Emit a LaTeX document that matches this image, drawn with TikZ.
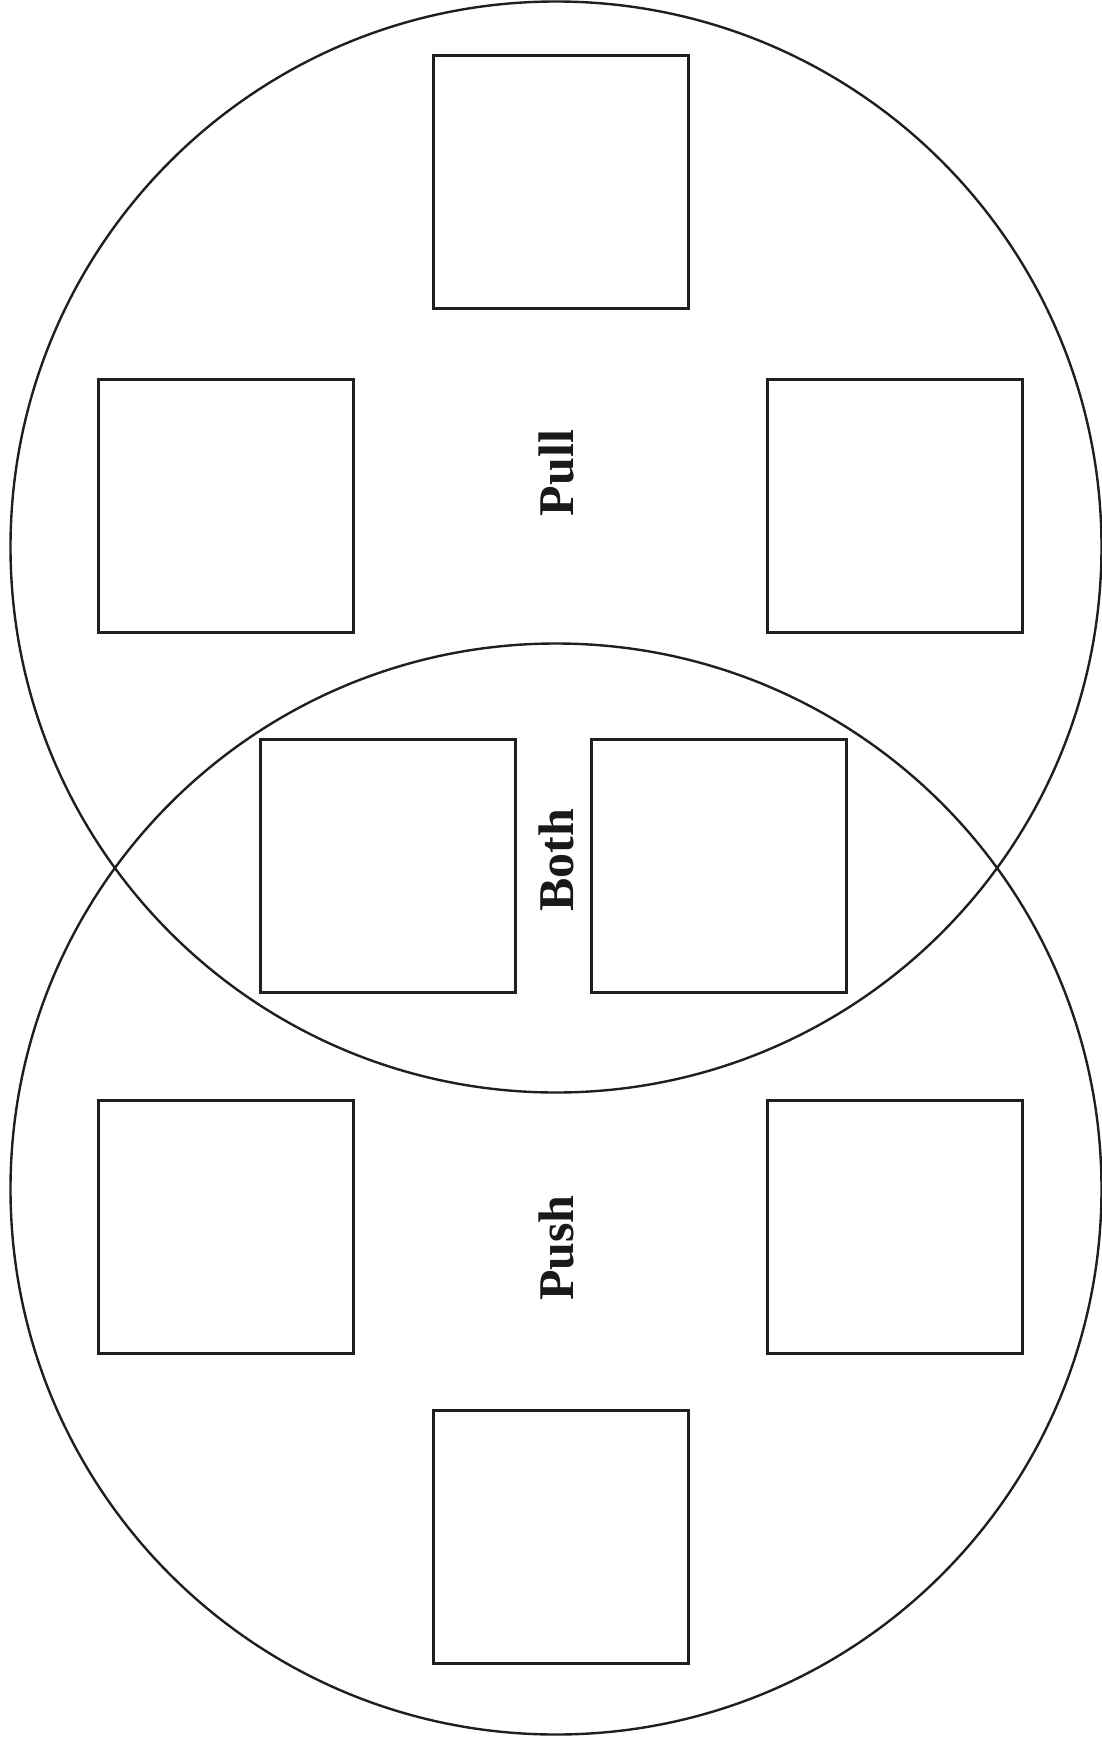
\documentclass[tikz,border=0pt]{standalone}
\usepackage{fontspec}
\setmainfont{Liberation Serif}
\begin{document}
\begin{tikzpicture}[x=1pt,y=-1pt,
  cbox/.style={draw=black!88,line width=2.8pt,rectangle,minimum width=255pt,minimum height=253pt,inner sep=0pt},
  ring/.style={draw=black!88,line width=2.4pt},
  lbl/.style={rotate=90,font=\fontsize{50}{60}\selectfont\bfseries,text=black!90,inner sep=0pt}]
\useasboundingbox (0,0) rectangle (1101,1742);
\coordinate (ctop) at (556,547);
\coordinate (cbot) at (556,1189);
\draw[ring] (ctop) circle[radius=545.5];
\draw[ring] (cbot) circle[radius=545.5];
\node[cbox] (t)  at (561,182) {};
\node[cbox] (tl) at (226,506) {};
\node[cbox] (tr) at (895,506) {};
\node[cbox] (ml) at (388,866) {};
\node[cbox] (mr) at (719,866) {};
\node[cbox] (bl) at (226,1227) {};
\node[cbox] (br) at (895,1227) {};
\node[cbox] (b)  at (561,1537) {};
\node[lbl] (pull) at (556,473) {Pull};
\node[lbl] (both) at (556,860) {Both};
\node[lbl] (push) at (556,1248) {Push};
\end{tikzpicture}
\end{document}
